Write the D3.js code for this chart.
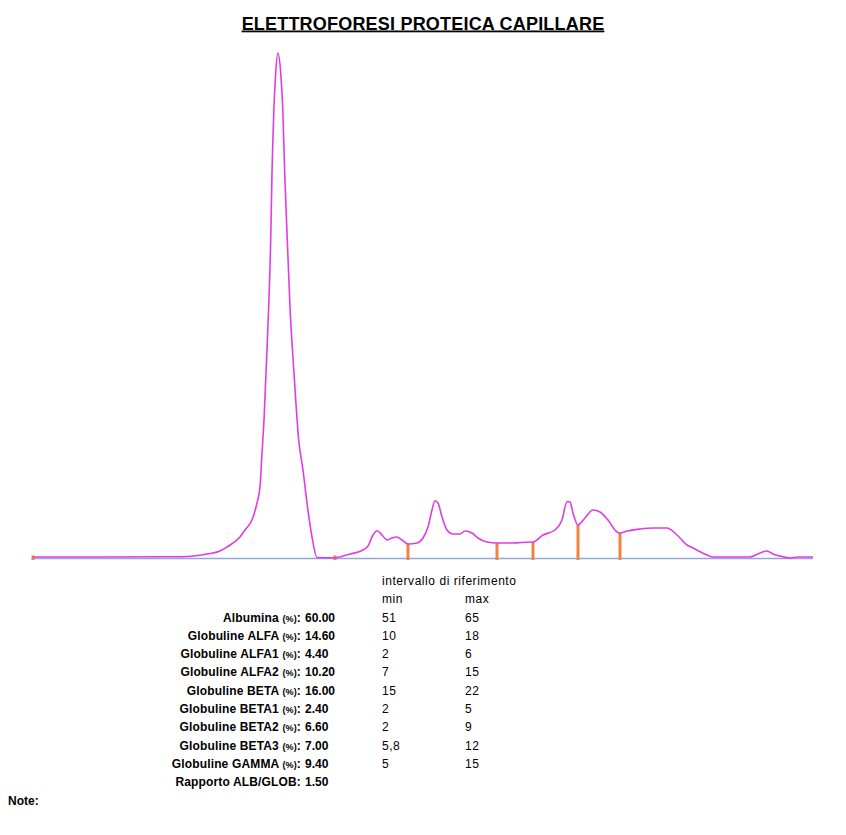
<!DOCTYPE html>
<html>
<head>
<meta charset="utf-8">
<script src="https://cdn.jsdelivr.net/npm/d3@7"></script>
<style>
  body { margin: 0; background: #fff; }
  svg text { font-family: "Liberation Sans", Arial, sans-serif; }
</style>
</head>
<body>
<script>
// tracciato elettroforetico: posizione di migrazione e densità
const migrazione = [
  0, 67, 149, 174, 187, 194, 200, 207, 212, 219,
  224, 227, 229, 231, 233, 235.7, 237.7, 239, 241, 242.7,
  245, 247.7, 249.7, 251.7, 254.3, 257, 261, 265.7, 270, 274,
  279, 284, 302, 317, 330, 335, 340, 344, 349, 354,
  359, 364, 369, 375, 384, 390, 395, 399, 402, 405,
  409, 414, 420, 427, 432, 439, 445, 454, 464, 480,
  497, 500, 510, 522, 529, 534, 537, 540, 545, 552,
  560, 567, 575, 584, 587, 594, 607, 620, 634, 644,
  654, 660, 674, 680, 717, 727, 734, 740, 750, 757,
  764, 780
]
const densita = [
  1, 1, 1.3, 4, 7, 11, 15, 21, 28, 38,
  55, 71, 105, 138, 185, 251, 318, 385, 451, 485,
  505, 485, 451, 385, 318, 251, 185, 118, 88, 55,
  21, 0.5, 0.3, 4, 8, 12, 23, 27.3, 23, 18,
  20, 21, 18, 14, 15, 20, 31, 48, 57.3, 55,
  41, 28, 24, 24, 27, 25, 20, 16, 15, 15,
  16, 16, 23, 28, 38, 56.3, 56.3, 45, 33, 40,
  48, 46, 38, 26, 25, 27, 29, 30, 30, 23,
  13, 10, 3, 1, 1, 5, 7, 4, 1.3, 0,
  1, 1
]
// separatori delle frazioni
const separatori = [0, 302, 375, 464, 500, 545, 587]

// tabella risultati
const frazioni = ["Albumina", "Globuline ALFA", "Globuline ALFA1", "Globuline ALFA2", "Globuline BETA",
  "Globuline BETA1", "Globuline BETA2", "Globuline BETA3", "Globuline GAMMA", "Rapporto ALB/GLOB"]
const valori = ["60.00", "14.60", "4.40", "10.20", "16.00", "2.40", "6.60", "7.00", "9.40", "1.50"]
const minimi = ["51", "10", "2", "7", "15", "2", "2", "5,8", "5", ""]
const massimi = ["65", "18", "6", "15", "22", "5", "9", "12", "15", ""]

const width = 846, height = 835

let svg = d3.select("body").append("svg")
  .attr("width", width)
  .attr("height", height)

// titolo
svg.append("text")
  .attr("x", 423)
  .attr("y", 29.5)
  .attr("text-anchor", "middle")
  .attr("font-size", "18px")
  .attr("font-weight", "bold")
  .attr("letter-spacing", "0.2px")
  .attr("text-decoration", "underline")
  .text("ELETTROFORESI PROTEICA CAPILLARE")

let x = d3.scaleLinear().domain([0, 780]).range([33, 813])
let y = d3.scaleLinear().domain([0, 505]).range([558, 53])

let dati = migrazione.map((m, i) => ({ m: m, d: densita[i] }))

// linea di base
svg.append("line")
  .attr("x1", x(0)).attr("x2", x(780))
  .attr("y1", y(0) + 0.5).attr("y2", y(0) + 0.5)
  .attr("stroke", "#8fa9dc")
  .attr("stroke-width", 1.5)

// separatori arancioni
let bisect = d3.bisector(d => d.m).left
function densitaA(m) {
  let i = bisect(dati, m)
  if (i <= 0) return dati[0].d
  let a = dati[i - 1], b = dati[i]
  return a.d + (b.d - a.d) * (m - a.m) / (b.m - a.m)
}

svg.selectAll(".sep")
  .data(separatori)
  .enter()
  .append("rect")
  .attr("x", d => x(d) - 1.5)
  .attr("y", d => Math.min(y(densitaA(d)), y(0) - 2.5))
  .attr("width", 3)
  .attr("height", d => y(0) + 2 - Math.min(y(densitaA(d)), y(0) - 2.5))
  .attr("fill", "#f0843c")

// tracciato
let line = d3.line()
  .x(d => x(d.m))
  .y(d => y(d.d))
  .curve(d3.curveMonotoneX)

svg.append("path")
  .datum(dati)
  .attr("d", line)
  .attr("fill", "none")
  .attr("stroke", "#e03ce6")
  .attr("stroke-width", 1.6)

// tabella
function testo(xx, yy, t) {
  return svg.append("text")
    .attr("x", xx).attr("y", yy)
    .attr("font-size", "12px")
    .attr("letter-spacing", "0.55px")
    .text(t)
}
testo(382, 585, "intervallo di riferimento")
testo(382, 603, "min")
testo(465, 603, "max")

let riga = i => 621.5 + i * 18.3

frazioni.forEach((f, i) => {
  let t = svg.append("text")
    .attr("x", 301).attr("y", riga(i))
    .attr("text-anchor", "end")
    .attr("font-size", "12px")
    .attr("font-weight", "bold")
    .attr("letter-spacing", "0.15px")
  if (i < frazioni.length - 1) {
    t.append("tspan").text(f + " ")
    t.append("tspan").attr("font-size", "9px").text("(%)")
    t.append("tspan").text(":")
  } else {
    t.text(f + ":")
  }

  svg.append("text")
    .attr("x", 305).attr("y", riga(i))
    .attr("font-size", "12px")
    .attr("font-weight", "bold")
    .text(valori[i])

  testo(382, riga(i), minimi[i])
  testo(465, riga(i), massimi[i])
})

svg.append("text")
  .attr("x", 8).attr("y", 805)
  .attr("font-size", "12px")
  .attr("font-weight", "bold")
  .text("Note:")
</script>
</body>
</html>
